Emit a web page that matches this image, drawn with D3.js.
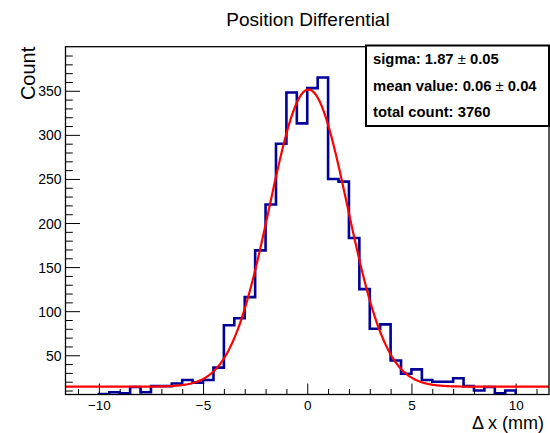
<!DOCTYPE html>
<html>
<head>
<meta charset="utf-8">
<script src="https://cdn.jsdelivr.net/npm/d3@7"></script>
<style>
  html, body { margin: 0; padding: 0; background: #fff; }
  svg { display: block; font-family: "Liberation Sans", Arial, Helvetica, sans-serif; }
</style>
</head>
<body>
<svg id="chart" width="550" height="433"></svg>
<script>
// ---- data ----
const title = "Position Differential";
const xLabel = "\u0394 x (mm)";
const yLabel = "Count";
const xDomain = [-11.6, 11.6];
const yDomain = [5.5, 400];
const binLowEdges = [-10, -9.5, -9, -8.5, -8, -7.5, -7, -6.5, -6, -5.5,
                     -5, -4.5, -4, -3.5, -3, -2.5, -2, -1.5, -1, -0.5,
                     0, 0.5, 1, 1.5, 2, 2.5, 3, 3.5, 4, 4.5,
                     5, 5.5, 6, 6.5, 7, 7.5, 8, 8.5, 9, 9.5];
const binWidth = 0.5;
const counts = [6, 8, 7, 14, 8, 15, 15, 18, 22, 19,
                22, 36, 84, 92, 116, 169, 221, 290, 348, 313,
                353, 365, 250, 247, 183, 125, 80, 85, 44, 29,
                34, 22, 20, 20, 24, 15, 10, 14, 7, 10];
// Gaussian + constant fit parameters
const fitConstant = [14.4];
const fitAmplitude = [337];
const fitMean = [0.06];
const fitSigma = [1.87];
const xMajorTicks = [-10, -5, 0, 5, 10];
const xMinorTicks = [-11, -9, -8, -7, -6, -4, -3, -2, -1, 1, 2, 3, 4, 6, 7, 8, 9, 11];
const yMajorTicks = [50, 100, 150, 200, 250, 300, 350];
const yMinorTicks = [10, 20, 30, 40, 60, 70, 80, 90, 110, 120, 130, 140, 160, 170, 180, 190,
                     210, 220, 230, 240, 260, 270, 280, 290, 310, 320, 330, 340, 360, 370, 380, 390];
const statsLines = [
  ["sigma: 1.87 ", "\u00b1", " 0.05"],
  ["mean value: 0.06 ", "\u00b1", " 0.04"],
  ["total count: 3760"]
];

// ---- layout ----
const frame = { left: 65.5, right: 549, top: 46.7, bottom: 394.5 };
const svg = d3.select("#chart");

const x = d3.scaleLinear().domain(xDomain).range([frame.left, frame.right]);
const y = d3.scaleLinear().domain(yDomain).range([frame.bottom, frame.top]);

svg.append("defs").append("clipPath").attr("id", "clip")
  .append("rect")
  .attr("x", frame.left).attr("y", frame.top)
  .attr("width", frame.right - frame.left).attr("height", frame.bottom - frame.top);

// ---- ticks (drawn inward, ROOT style) ----
const xAxisMajor = d3.axisTop(x).tickValues(xMajorTicks).tickSize(11).tickFormat("");
const xAxisMinor = d3.axisTop(x).tickValues(xMinorTicks).tickSize(5.5).tickFormat("");
const yAxisMajor = d3.axisRight(y).tickValues(yMajorTicks).tickSize(14.5).tickFormat("");
const yAxisMinor = d3.axisRight(y).tickValues(yMinorTicks).tickSize(7.3).tickFormat("");

[xAxisMajor, xAxisMinor].forEach(ax => {
  const g = svg.append("g").attr("transform", `translate(0,${frame.bottom})`).call(ax);
  g.select(".domain").remove();
  g.selectAll("line").attr("stroke", "#000").attr("stroke-width", 1);
});
[yAxisMajor, yAxisMinor].forEach(ax => {
  const g = svg.append("g").attr("transform", `translate(${frame.left},0)`).call(ax);
  g.select(".domain").remove();
  g.selectAll("line").attr("stroke", "#000").attr("stroke-width", 1);
});

// tick labels
const xLab = d3.axisBottom(x).tickValues(xMajorTicks).tickSize(0).tickPadding(0).tickFormat(d3.format("d"));
const gxl = svg.append("g").attr("transform", `translate(0,${frame.bottom})`).call(xLab);
gxl.select(".domain").remove();
gxl.selectAll("text").attr("y", 15).attr("dy", 0)
  .attr("font-size", 13.5).attr("font-family", "Liberation Sans, Arial, sans-serif").attr("fill", "#000");

const yLab = d3.axisLeft(y).tickValues(yMajorTicks).tickSize(0).tickPadding(0).tickFormat(d3.format("d"));
const gyl = svg.append("g").attr("transform", `translate(${frame.left - 4},0)`).call(yLab);
gyl.select(".domain").remove();
gyl.selectAll("text").attr("x", 0).attr("dy", "0.36em")
  .attr("font-size", 14).attr("font-family", "Liberation Sans, Arial, sans-serif").attr("fill", "#000");

// ---- histogram step outline ----
const plot = svg.append("g").attr("clip-path", "url(#clip)");
const pts = [];
pts.push([binLowEdges[0], yDomain[0] - 10]);
binLowEdges.forEach((lo, i) => {
  pts.push([lo, counts[i]]);
  pts.push([lo + binWidth, counts[i]]);
});
pts.push([binLowEdges[binLowEdges.length - 1] + binWidth, yDomain[0] - 10]);
const histLine = d3.line().x(d => x(d[0])).y(d => y(d[1]));
plot.append("path")
  .attr("d", histLine(pts))
  .attr("fill", "none")
  .attr("stroke", "#000099")
  .attr("stroke-width", 2.6)
  .attr("stroke-linejoin", "miter");

// ---- fit curve ----
const fitFn = v => fitConstant[0] + fitAmplitude[0] * Math.exp(-((v - fitMean[0]) ** 2) / (2 * fitSigma[0] ** 2));
const fitX = d3.range(xDomain[0], xDomain[1] + 1e-9, (xDomain[1] - xDomain[0]) / 400);
plot.append("path")
  .attr("d", d3.line().x(d => x(d)).y(d => y(fitFn(d))).curve(d3.curveLinear)(fitX))
  .attr("fill", "none")
  .attr("stroke", "#ff0000")
  .attr("stroke-width", 2.2);

// ---- frame ----
svg.append("rect")
  .attr("x", frame.left).attr("y", frame.top)
  .attr("width", frame.right - frame.left).attr("height", frame.bottom - frame.top)
  .attr("fill", "none").attr("stroke", "#000").attr("stroke-width", 1.3);

// ---- titles ----
svg.append("text")
  .attr("x", 308).attr("y", 26)
  .attr("text-anchor", "middle")
  .attr("font-size", 19)
  .attr("fill", "#000")
  .text(title);

svg.append("text")
  .attr("transform", `translate(35,${frame.top}) rotate(-90)`)
  .attr("text-anchor", "end")
  .attr("font-size", 20)
  .attr("fill", "#000")
  .text(yLabel);

svg.append("text")
  .attr("x", 544).attr("y", 429)
  .attr("text-anchor", "end")
  .attr("font-size", 18)
  .attr("fill", "#000")
  .text(xLabel);

// ---- stats box ----
const box = { x: 366, y: 45.5, w: 183, h: 80.5 };
svg.append("rect")
  .attr("x", box.x).attr("y", box.y).attr("width", box.w).attr("height", box.h)
  .attr("fill", "#fff").attr("stroke", "#000").attr("stroke-width", 2);
const baselines = [63.5, 90.5, 117];
statsLines.forEach((parts, i) => {
  const t = svg.append("text")
    .attr("x", box.x + 7).attr("y", baselines[i])
    .attr("font-size", 14.8).attr("font-weight", "bold").attr("fill", "#000");
  parts.forEach(p => {
    t.append("tspan").attr("font-weight", p === "\u00b1" ? "normal" : "bold").text(p);
  });
});
</script>
</body>
</html>
